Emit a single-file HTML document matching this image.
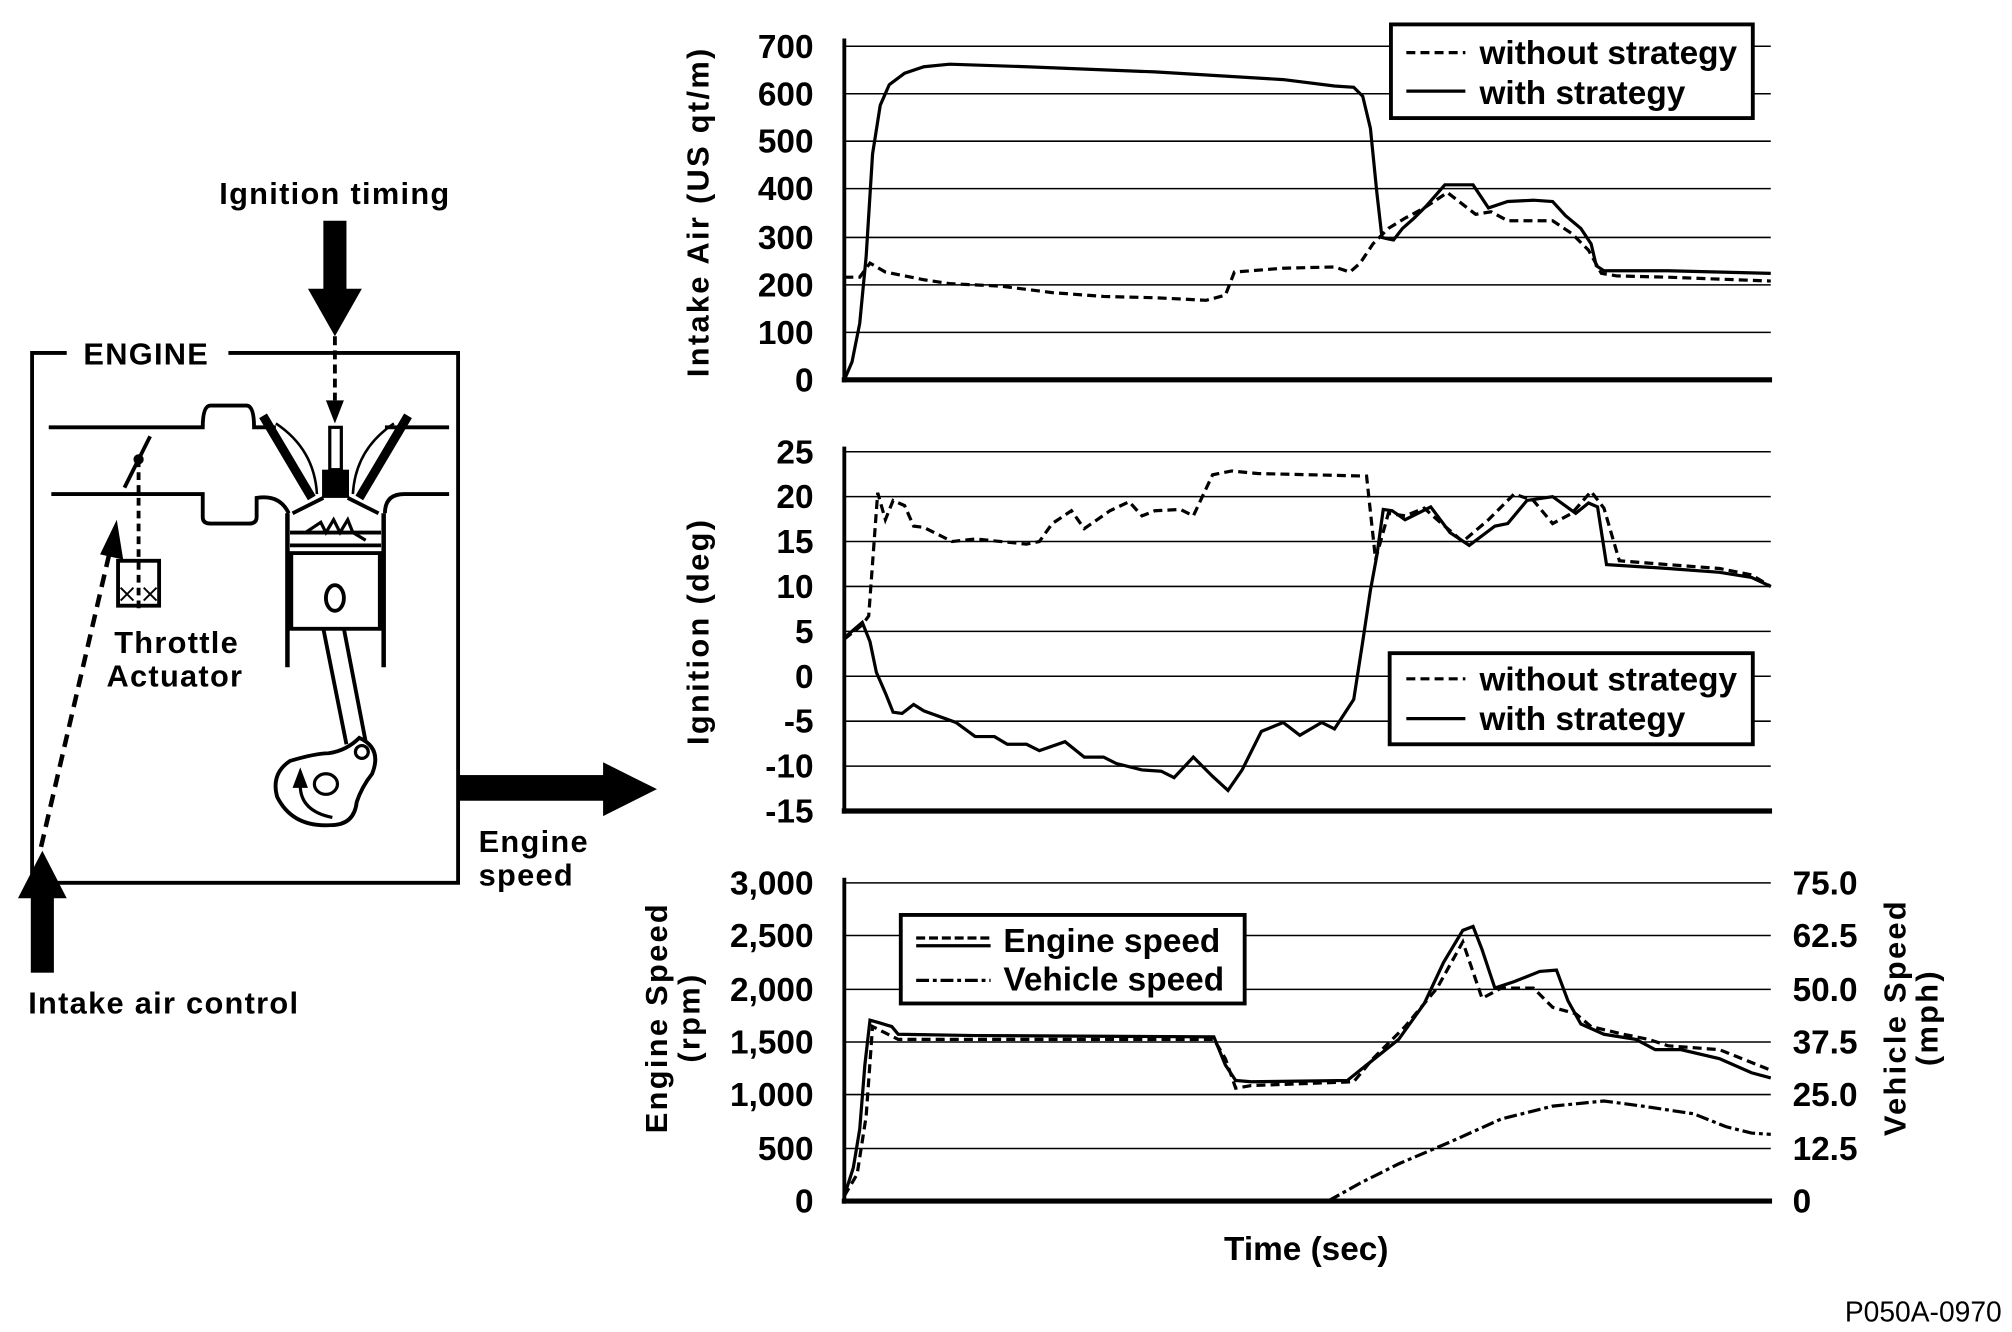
<!DOCTYPE html>
<html><head><meta charset="utf-8"><style>
html,body{margin:0;padding:0;background:#fff;}
svg{display:block;}
.t{font-family:"Liberation Sans Narrow","Liberation Sans",sans-serif;font-weight:bold;font-size:26px;fill:#000;}
.w{font-family:"Liberation Sans",sans-serif;font-weight:bold;font-size:24px;letter-spacing:1px;fill:#000;}
.a{font-family:"Liberation Sans",sans-serif;font-weight:bold;font-size:24px;letter-spacing:1.8px;fill:#000;}
.g{stroke:#000;stroke-width:1.2;}
</style></head><body>
<svg width="2012" height="1332" viewBox="0 0 1568 1038" xmlns="http://www.w3.org/2000/svg">
<rect width="1568" height="1038" fill="#fff"/>
<!-- ===== Left diagram ===== -->
<text class="w" x="261" y="159" text-anchor="middle">Ignition timing</text>
<rect x="252" y="172" width="18" height="55" fill="#000"/>
<polygon points="240,225 282,225 261,262" fill="#000"/>
<line x1="261" y1="262" x2="261" y2="312" stroke="#000" stroke-width="3" stroke-dasharray="7,4"/>
<polygon points="254,312 268,312 261,330" fill="#000"/>
<polyline points="52,275 25,275 25,688 357,688 357,275 178,275" fill="none" stroke="#000" stroke-width="3"/>
<text class="w" x="65" y="284">ENGINE</text>
<path d="M38,333 H158 q0,-17 6,-17 H192 q6,0 6,17 H215" fill="none" stroke="#000" stroke-width="3"/>
<path d="M300,333 H350" fill="none" stroke="#000" stroke-width="3"/>
<path d="M40,385 H158 V403 q0,5 6,5 H194 q6,0 6,-5 V388 q18,-3 25,12" fill="none" stroke="#000" stroke-width="3"/>
<path d="M350,385 H315 q-15,0 -15,15" fill="none" stroke="#000" stroke-width="3"/>
<line x1="97" y1="380" x2="117" y2="340" stroke="#000" stroke-width="3"/>
<circle cx="108" cy="358" r="4" fill="#000"/>
<line x1="108" y1="358" x2="108" y2="476" stroke="#000" stroke-width="3" stroke-dasharray="6,4"/>
<rect x="92" y="437" width="32" height="35" fill="none" stroke="#000" stroke-width="3"/>
<path d="M94,458 l10,10 M104,458 l-10,10 M112,458 l10,10 M122,458 l-10,10" stroke="#000" stroke-width="1.5"/>
<text class="w" x="89" y="509">Throttle</text>
<text class="w" x="83" y="535">Actuator</text>
<line x1="32" y1="660" x2="86" y2="428" stroke="#000" stroke-width="3.5" stroke-dasharray="10,6"/>
<polygon points="78,432 96,436 91,405" fill="#000"/>
<line x1="205" y1="324" x2="243" y2="388" stroke="#000" stroke-width="7"/>
<line x1="318" y1="324" x2="280" y2="388" stroke="#000" stroke-width="7"/>
<path d="M215,330 q30,20 32,55 M307,330 q-30,20 -32,55" fill="none" stroke="#000" stroke-width="2"/>
<rect x="257" y="333" width="9" height="33" fill="none" stroke="#000" stroke-width="2.5"/>
<rect x="251" y="366" width="21" height="22" fill="#000"/>
<path d="M228,400 L252,388 M295,400 L271,388" stroke="#000" stroke-width="3"/>
<path d="M238,415 l12,-8 l4,8 l6,-10 l5,10 l6,-10 l4,10 l10,6" fill="none" stroke="#000" stroke-width="2.5"/>
<line x1="224" y1="400" x2="224" y2="520" stroke="#000" stroke-width="3.5"/>
<line x1="299" y1="400" x2="299" y2="520" stroke="#000" stroke-width="3.5"/>
<line x1="226" y1="415" x2="297" y2="415" stroke="#000" stroke-width="3"/>
<line x1="226" y1="425" x2="297" y2="425" stroke="#000" stroke-width="3"/>
<rect x="227" y="431" width="69" height="59" fill="none" stroke="#000" stroke-width="3"/>
<ellipse cx="261" cy="466" rx="7" ry="10" fill="none" stroke="#000" stroke-width="3"/>
<path d="M252,490 L270,580 M268,490 L285,578" stroke="#000" stroke-width="3"/>
<path d="M280,575 q18,8 10,28 q-8,10 -12,22 q-2,18 -20,18 q-30,2 -42,-22 q-5,-18 10,-28 q20,-6 30,-6 q14,-2 24,-12 z" fill="#fff" stroke="#000" stroke-width="3"/>
<circle cx="282" cy="586" r="5" fill="none" stroke="#000" stroke-width="2.5"/>
<ellipse cx="254" cy="611" rx="9" ry="8" fill="none" stroke="#000" stroke-width="2.5"/>
<path d="M234,612 q0,20 25,25" fill="none" stroke="#000" stroke-width="2.5"/>
<polygon points="228,614 240,614 234,598" fill="#000"/>
<rect x="358" y="604" width="114" height="20" fill="#000"/>
<polygon points="470,594 470,636 512,615" fill="#000"/>
<text class="w" x="373" y="664">Engine</text>
<text class="w" x="373" y="690">speed</text>
<rect x="24" y="698" width="18" height="60" fill="#000"/>
<polygon points="14,700 52,700 33,663" fill="#000"/>
<text class="w" x="22" y="790">Intake air control</text>

<!-- ===== Chart 1 ===== -->
<g class="g">
<line x1="658" y1="36" x2="1380" y2="36"/><line x1="658" y1="73" x2="1380" y2="73"/>
<line x1="658" y1="110" x2="1380" y2="110"/><line x1="658" y1="147" x2="1380" y2="147"/>
<line x1="658" y1="185" x2="1380" y2="185"/><line x1="658" y1="222" x2="1380" y2="222"/>
<line x1="658" y1="259" x2="1380" y2="259"/>
</g>
<line x1="658" y1="30" x2="658" y2="298" stroke="#000" stroke-width="3"/>
<line x1="656" y1="296" x2="1381" y2="296" stroke="#000" stroke-width="4"/>
<g class="t" text-anchor="end">
<text x="634" y="45">700</text><text x="634" y="82">600</text><text x="634" y="119">500</text>
<text x="634" y="156">400</text><text x="634" y="194">300</text><text x="634" y="231">200</text>
<text x="634" y="268">100</text><text x="634" y="305">0</text>
</g>
<text class="a" transform="translate(552,165) rotate(-90)" text-anchor="middle">Intake Air (US qt/m)</text>
<polyline fill="none" stroke="#000" stroke-width="2.5" stroke-dasharray="7,4" points="658,216 670,216 678,205 690,212 705,215 720,218 740,221 780,223 820,228 860,231 900,232 940,234 955,230 962,212 1000,209 1040,208 1052,212 1060,205 1070,190 1082,178 1095,170 1110,162 1128,150 1150,167 1162,165 1175,172 1210,172 1225,182 1238,195 1248,213 1260,215 1300,216 1380,219"/>
<polyline fill="none" stroke="#000" stroke-width="2.5" points="658,296 664,282 670,252 675,200 680,120 686,82 693,66 705,57 720,52 740,50 800,52 900,56 1000,62 1040,67 1055,68 1062,75 1068,100 1073,150 1077,185 1081,186 1086,187 1093,178 1102,170 1112,160 1126,144 1148,144 1160,162 1175,157 1195,156 1210,157 1220,168 1232,178 1240,190 1244,207 1250,211 1300,211 1380,213"/>
<rect x="1084" y="19" width="282" height="73" fill="#fff" stroke="#000" stroke-width="3"/>
<line x1="1096" y1="41" x2="1142" y2="41" stroke="#000" stroke-width="2.5" stroke-dasharray="7,4"/>
<line x1="1096" y1="71" x2="1142" y2="71" stroke="#000" stroke-width="2.5"/>
<text class="t" x="1153" y="50">without strategy</text>
<text class="t" x="1153" y="81">with strategy</text>

<!-- ===== Chart 2 ===== -->
<g class="g">
<line x1="658" y1="352" x2="1380" y2="352"/><line x1="658" y1="387" x2="1380" y2="387"/>
<line x1="658" y1="422" x2="1380" y2="422"/><line x1="658" y1="457" x2="1380" y2="457"/>
<line x1="658" y1="492" x2="1380" y2="492"/><line x1="658" y1="527" x2="1380" y2="527"/>
<line x1="658" y1="562" x2="1380" y2="562"/><line x1="658" y1="597" x2="1380" y2="597"/>
</g>
<line x1="658" y1="348" x2="658" y2="634" stroke="#000" stroke-width="3"/>
<line x1="656" y1="632" x2="1381" y2="632" stroke="#000" stroke-width="4"/>
<g class="t" text-anchor="end">
<text x="634" y="361">25</text><text x="634" y="396">20</text><text x="634" y="431">15</text>
<text x="634" y="466">10</text><text x="634" y="501">5</text><text x="634" y="536">0</text>
<text x="634" y="571">-5</text><text x="634" y="606">-10</text><text x="634" y="641">-15</text>
</g>
<text class="a" transform="translate(552,492) rotate(-90)" text-anchor="middle">Ignition (deg)</text>
<polyline fill="none" stroke="#000" stroke-width="2.5" stroke-dasharray="7,4" points="658,498 672,487 677,480 684,384 690,405 696,390 705,394 712,410 720,411 742,422 760,420 800,424 810,422 820,408 835,398 845,412 865,398 880,391 890,402 900,398 920,397 930,402 945,370 960,367 980,369 1065,371 1072,436 1082,400 1095,402 1110,396 1120,405 1140,422 1160,405 1180,385 1195,390 1210,408 1225,400 1240,383 1250,396 1262,437 1300,440 1340,443 1365,448 1380,457"/>
<polyline fill="none" stroke="#000" stroke-width="2.5" points="658,497 672,485 678,500 683,524 690,540 696,555 703,556 712,549 720,554 745,563 760,574 775,574 785,580 800,580 810,585 830,578 845,590 860,590 870,595 890,600 905,601 915,606 930,590 945,605 957,616 968,600 983,570 1000,563 1013,573 1030,563 1040,568 1055,545 1062,500 1068,460 1073,433 1078,397 1085,398 1095,405 1115,395 1130,415 1145,425 1165,410 1175,408 1190,390 1210,387 1228,400 1238,392 1245,395 1252,440 1300,443 1340,446 1365,450 1380,457"/>
<rect x="1083" y="509" width="283" height="71" fill="#fff" stroke="#000" stroke-width="3"/>
<line x1="1096" y1="529" x2="1142" y2="529" stroke="#000" stroke-width="2.5" stroke-dasharray="7,4"/>
<line x1="1096" y1="560" x2="1142" y2="560" stroke="#000" stroke-width="2.5"/>
<text class="t" x="1153" y="538">without strategy</text>
<text class="t" x="1153" y="569">with strategy</text>

<!-- ===== Chart 3 ===== -->
<g class="g">
<line x1="658" y1="688" x2="1380" y2="688"/><line x1="658" y1="729" x2="1380" y2="729"/>
<line x1="658" y1="771" x2="1380" y2="771"/><line x1="658" y1="812" x2="1380" y2="812"/>
<line x1="658" y1="853" x2="1380" y2="853"/><line x1="658" y1="895" x2="1380" y2="895"/>
</g>
<line x1="658" y1="684" x2="658" y2="938" stroke="#000" stroke-width="3"/>
<line x1="656" y1="936" x2="1381" y2="936" stroke="#000" stroke-width="4"/>
<g class="t" text-anchor="end">
<text x="634" y="697">3,000</text><text x="634" y="738">2,500</text><text x="634" y="780">2,000</text>
<text x="634" y="821">1,500</text><text x="634" y="862">1,000</text><text x="634" y="904">500</text>
<text x="634" y="945">0</text>
</g>
<g class="t">
<text x="1397" y="697">75.0</text><text x="1397" y="738">62.5</text><text x="1397" y="780">50.0</text>
<text x="1397" y="821">37.5</text><text x="1397" y="862">25.0</text><text x="1397" y="904">12.5</text>
<text x="1397" y="945">0</text>
</g>
<text class="a" transform="translate(520,793) rotate(-90)" text-anchor="middle">Engine Speed</text>
<text class="a" transform="translate(545,793) rotate(-90)" text-anchor="middle">(rpm)</text>
<text class="a" transform="translate(1485,793) rotate(-90)" text-anchor="middle">Vehicle Speed</text>
<text class="a" transform="translate(1510,793) rotate(-90)" text-anchor="middle">(mph)</text>
<polyline fill="none" stroke="#000" stroke-width="2.5" stroke-dasharray="7,4" points="658,932 668,915 675,870 680,800 690,805 700,810 760,810 946,810 955,825 963,848 975,846 1055,843 1070,825 1095,800 1120,770 1140,734 1155,778 1170,770 1195,770 1210,785 1228,790 1240,800 1265,806 1285,810 1300,815 1340,818 1380,834"/>
<polyline fill="none" stroke="#000" stroke-width="2.5" points="658,932 665,910 670,880 674,830 678,795 685,797 695,800 700,806 760,807 946,808 955,830 963,842 975,843 1050,842 1065,830 1090,810 1110,782 1125,750 1140,725 1148,722 1155,740 1165,770 1180,765 1200,757 1213,756 1222,780 1232,798 1250,806 1275,810 1290,818 1310,818 1340,825 1365,836 1380,840"/>
<polyline fill="none" stroke="#000" stroke-width="2.5" stroke-dasharray="10,3,3,3" points="1035,936 1060,922 1090,907 1130,890 1170,872 1210,862 1250,858 1280,862 1320,868 1345,878 1365,883 1380,884"/>
<rect x="702" y="713" width="268" height="69" fill="#fff" stroke="#000" stroke-width="3"/>
<line x1="714" y1="731" x2="772" y2="731" stroke="#000" stroke-width="2.5" stroke-dasharray="7,3"/>
<line x1="714" y1="737" x2="772" y2="737" stroke="#000" stroke-width="2.5"/>
<line x1="714" y1="764" x2="772" y2="764" stroke="#000" stroke-width="2.5" stroke-dasharray="10,3,3,3"/>
<text class="t" x="782" y="742">Engine speed</text>
<text class="t" x="782" y="772">Vehicle speed</text>
<text class="t" x="1018" y="982" text-anchor="middle">Time (sec)</text>
<text class="t" x="1560" y="1030" text-anchor="end" style="font-size:22px;font-weight:normal">P050A-0970</text>
</svg>
</body></html>
